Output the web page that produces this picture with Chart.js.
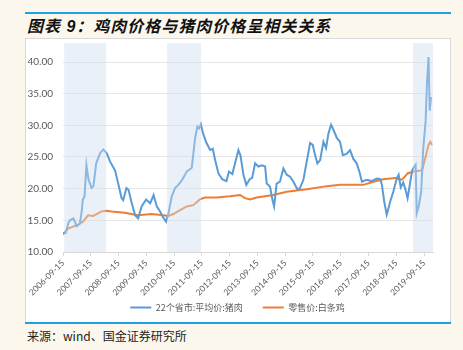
<!DOCTYPE html>
<html lang="zh-CN">
<head>
<meta charset="utf-8">
<title>鸡肉价格与猪肉价格</title>
<script src="https://cdn.jsdelivr.net/npm/chart.js@4.4.0/dist/chart.umd.min.js"></script>
<style>
    html, body { margin: 0; padding: 0; background: #fcf7ec; }
    body { width: 463px; height: 350px; position: relative; overflow: hidden; font-family: "Noto Sans CJK SC", sans-serif; }
    .rule { position: absolute; left: 25px; width: 426px; height: 2px; background: #1fa0e3; }
    #title { position: absolute; left: 27px; top: 13px; line-height: 20px; font: italic bold 16px "Liberation Sans", "Noto Sans CJK SC", sans-serif; letter-spacing: 1px; color: #111; }
    #panel { position: absolute; left: 25px; top: 38px; width: 424px; height: 283px; background: #fff; border: 1px solid #d9d9d9; }
    #source { position: absolute; left: 27px; top: 327px; font-size: 12px; color: #222; }
</style>
</head>
<body>
<div class="rule" style="top:12px"></div>
<div id="title">图表 9：鸡肉价格与猪肉价格呈相关关系</div>
<div id="panel"><canvas id="priceChart" width="424" height="283"></canvas></div>
<div class="rule" style="top:322px"></div>
<div id="source">来源：wind、国金证券研究所</div>

<script>
// 猪肉：22个省市平均价（元/公斤）
const porkDates = [
    '2006-09-15', '2006-10-20', '2006-11-25', '2006-12-15', '2007-01-30', '2007-03-15', '2007-04-25',
    '2007-05-20', '2007-06-01', '2007-06-25', '2007-07-20', '2007-08-15', '2007-09-05', '2007-09-25',
    '2007-10-20', '2007-11-25', '2008-01-15', '2008-02-28', '2008-04-12', '2008-05-25', '2008-07-30',
    '2008-09-10', '2008-10-25', '2008-11-15', '2008-12-28', '2009-01-25', '2009-03-05', '2009-04-20',
    '2009-05-30', '2009-07-15', '2009-09-12', '2009-11-05', '2009-12-20', '2010-01-30', '2010-03-15',
    '2010-04-22', '2010-06-01', '2010-07-01', '2010-08-15', '2010-09-27', '2010-11-10', '2010-12-25',
    '2011-02-28', '2011-05-05', '2011-06-18', '2011-07-18', '2011-08-10', '2011-09-01', '2011-09-28',
    '2011-11-15', '2012-01-01', '2012-02-05', '2012-03-08', '2012-04-20', '2012-06-08', '2012-08-04',
    '2012-09-05', '2012-10-20', '2012-12-05', '2013-01-08', '2013-02-05', '2013-03-15', '2013-04-22',
    '2013-06-05', '2013-07-08', '2013-08-15', '2013-09-27', '2013-11-12', '2013-12-25', '2014-01-15',
    '2014-02-28', '2014-04-01', '2014-04-22', '2014-05-25', '2014-07-08', '2014-08-22', '2014-10-05',
    '2014-11-18', '2015-01-01', '2015-02-22', '2015-03-28', '2015-05-12', '2015-06-28', '2015-08-08',
    '2015-09-12', '2015-10-12', '2015-11-12', '2015-12-18', '2016-01-30', '2016-03-05', '2016-04-05',
    '2016-05-10', '2016-06-10', '2016-07-25', '2016-09-05', '2016-10-12', '2016-12-01', '2017-01-15',
    '2017-02-28', '2017-04-12', '2017-05-20', '2017-06-20', '2017-08-20', '2017-10-25', '2018-01-01',
    '2018-02-15', '2018-03-08', '2018-04-10', '2018-05-12', '2018-06-25', '2018-08-08', '2018-09-20',
    '2018-10-15', '2018-11-12', '2018-12-15', '2019-01-15', '2019-02-10', '2019-03-15', '2019-04-12',
    '2019-05-15', '2019-05-27', '2019-06-10', '2019-07-08', '2019-08-08', '2019-09-02', '2019-10-05',
    '2019-10-22', '2019-11-12', '2019-11-28', '2019-12-15'
];
const porkPrice = [
    12.9, 13.0, 14.6, 15.0, 15.3, 14.1, 14.5,
    16.5, 18.2, 18.8, 23.7, 21.5, 20.8, 20.1,
    20.4, 24.0, 25.6, 26.2, 25.6, 24.3, 22.9,
    20.8, 18.5, 18.2, 20.1, 19.8, 17.8, 15.8,
    15.3, 17.2, 18.3, 17.7, 19.0, 17.2, 16.4,
    15.5, 14.8, 16.0, 18.8, 20.1, 20.6, 21.3,
    22.7, 23.3, 28.0, 29.8, 29.5, 30.2, 28.8,
    27.2, 26.1, 26.3, 24.5, 22.4, 21.5, 21.2,
    22.7, 22.3, 24.5, 26.1, 25.2, 22.2, 20.6,
    21.5, 21.7, 24.0, 23.5, 23.7, 23.5, 20.8,
    20.3, 18.2, 17.2, 20.8, 21.1, 23.2, 22.2,
    21.9, 21.1, 19.9, 20.1, 21.4, 24.5, 27.2,
    26.9, 25.3, 24.0, 24.5, 27.4, 26.4, 28.7,
    30.1, 29.3, 28.0, 27.4, 25.3, 25.5, 26.1,
    24.7, 24.0, 22.6, 21.1, 21.4, 21.2, 21.6,
    21.5, 20.7, 17.9, 15.9, 17.9, 19.6, 21.6,
    22.2, 20.2, 21.0, 19.8, 18.5, 20.9, 22.9,
    23.6, 23.8, 16.1, 17.3, 19.6, 26.0, 30.7,
    36.4, 40.8, 32.3, 34.5
];

// 白条鸡零售价（元/公斤）
const chickenDates = [
    '2006-09-15', '2006-11-20', '2007-01-25', '2007-04-01', '2007-06-05', '2007-08-10', '2007-10-15',
    '2007-12-20', '2008-02-01', '2008-04-08', '2008-06-12', '2008-12-05', '2009-05-30', '2009-11-20',
    '2010-04-28', '2010-07-01', '2010-09-05', '2010-12-01', '2011-02-28', '2011-05-25', '2011-08-20',
    '2011-10-25', '2012-03-28', '2012-09-20', '2013-01-30', '2013-04-05', '2013-06-10', '2013-09-05',
    '2014-04-12', '2014-10-05', '2015-06-28', '2016-03-18', '2016-09-05', '2017-07-08', '2017-11-18',
    '2018-03-28', '2018-09-02', '2018-11-12', '2018-12-15', '2019-02-10', '2019-04-25', '2019-08-20',
    '2019-10-01', '2019-11-12', '2019-12-05', '2019-12-28'
];
const chickenPrice = [
    12.8, 13.7, 14.0, 14.3, 14.8, 15.8, 15.7,
    16.1, 16.4, 16.5, 16.4, 16.2, 15.8, 16.0,
    15.8, 15.7, 16.0, 16.6, 17.2, 17.4, 18.3,
    18.6, 18.6, 18.8, 19.0, 18.5, 18.3, 18.6,
    19.0, 19.5, 19.9, 20.4, 20.6, 20.6, 21.1,
    21.5, 21.7, 21.4, 21.6, 22.4, 22.7, 22.9,
    24.9, 26.9, 27.4, 26.9
];

// 阴影区间
const bandStarts = ['2006-10-01', '2010-06-15', '2019-04-22'];
const bandEnds = ['2008-04-05', '2011-09-05', '2020-01-31'];

const tickLabels = [
    '2006-09-15', '2007-09-15', '2008-09-15', '2009-09-15', '2010-09-15', '2011-09-15', '2012-09-15',
    '2013-09-15', '2014-09-15', '2015-09-15', '2016-09-15', '2017-09-15', '2018-09-15', '2019-09-15'
];
const xStart = '2006-09-15';
const xEnd = '2020-01-10';

// 日期字符串 -> 小数年份
function toYear(str) {
    const [y, m, d] = str.split('-').map(Number);
    const start = Date.UTC(y, 0, 1);
    const next = Date.UTC(y + 1, 0, 1);
    return y + (Date.UTC(y, m - 1, d) - start) / (next - start);
}

function toPoints(dates, values) {
    return dates.map((d, i) => ({ x: toYear(d), y: values[i] }));
}

const bandPlugin = {
    id: 'shadedBands',
    afterDatasetsDraw(chart) {
        const { ctx, chartArea, scales } = chart;
        ctx.save();
        ctx.fillStyle = 'rgba(206, 220, 238, 0.43)';
        bandStarts.forEach((s, i) => {
            const x0 = Math.max(scales.x.getPixelForValue(toYear(s)), chartArea.left);
            const x1 = Math.min(scales.x.getPixelForValue(toYear(bandEnds[i])), chartArea.right);
            ctx.fillRect(x0, chartArea.top, x1 - x0, chartArea.bottom - chartArea.top);
        });
        ctx.restore();
    }
};

// 图例条目间距较大：固定图例高度，并在布局后整体右移一点
const legendBoxPlugin = {
    id: 'legendBox',
    beforeLayout(chart) {
        const legend = chart.legend;
        if (legend && !legend._fixedHeight) {
            const fit = legend.fit.bind(legend);
            legend.fit = () => {
                fit();
                legend.height = 36;
            };
            legend._fixedHeight = true;
        }
    },
    afterLayout(chart) {
        const legend = chart.legend;
        if (legend) {
            legend.left += 8;
            legend.right += 8;
        }
    }
};

function drawChart() {
    const ctx = document.getElementById('priceChart').getContext('2d');
    new Chart(ctx, {
        type: 'line',
        data: {
            datasets: [
                {
                    label: '22个省市:平均价:猪肉',
                    data: toPoints(porkDates, porkPrice),
                    borderColor: '#5b9bd5',
                    backgroundColor: '#5b9bd5',
                    borderWidth: 2,
                    pointRadius: 0,
                    tension: 0
                },
                {
                    label: '零售价:白条鸡',
                    data: toPoints(chickenDates, chickenPrice),
                    borderColor: '#ed7d31',
                    backgroundColor: '#ed7d31',
                    borderWidth: 2,
                    pointRadius: 0,
                    tension: 0
                }
            ]
        },
        options: {
            responsive: false,
            animation: false,
            layout: { padding: { left: 0, right: 17, top: 4, bottom: 3 } },
            scales: {
                x: {
                    type: 'linear',
                    min: toYear(xStart),
                    max: toYear(xEnd),
                    afterBuildTicks: scale => {
                        scale.ticks = tickLabels.map(t => ({ value: toYear(t) }));
                    },
                    afterFit: scale => {
                        scale.height = 31;
                        scale.paddingLeft = 0;
                        scale.paddingRight = 0;
                        // 斜排的日期标签比轴框高，不裁切
                        scale._computeLabelArea = () => undefined;
                    },
                    ticks: {
                        autoSkip: false,
                        maxRotation: 45,
                        minRotation: 45,
                        padding: 2,
                        color: '#595959',
                        font: { family: 'Lato', size: 8.5 },
                        callback: (value, index) => tickLabels[index]
                    },
                    grid: { drawOnChartArea: false, drawTicks: true, tickLength: 4, color: '#d9d9d9' },
                    border: { color: '#d9d9d9' }
                },
                y: {
                    min: 10,
                    max: 43,
                    afterBuildTicks: scale => {
                        scale.ticks = scale.ticks.filter(t => t.value % 5 === 0);
                    },
                    afterFit: scale => {
                        scale.width = 37;
                        scale.paddingTop = 0;
                        scale.paddingBottom = 0;
                    },
                    ticks: {
                        stepSize: 5,
                        padding: 10,
                        color: '#595959',
                        font: { family: 'Lato', size: 10 },
                        callback: value => value.toFixed(2)
                    },
                    grid: { color: '#e6e6e6', drawTicks: false },
                    border: { display: false }
                }
            },
            plugins: {
                legend: {
                    position: 'bottom',
                    labels: {
                        boxWidth: 21,
                        boxHeight: 2,
                        padding: 20,
                        color: '#595959',
                        font: { family: 'Noto Sans CJK SC', size: 9 },
                        generateLabels: chart =>
                            Chart.defaults.plugins.legend.labels.generateLabels(chart)
                                .map(item => ({ ...item, lineWidth: 0 }))
                    }
                },
                tooltip: { enabled: false }
            }
        },
        plugins: [bandPlugin, legendBoxPlugin]
    });
}

document.addEventListener('DOMContentLoaded', drawChart);
</script>
</body>
</html>
